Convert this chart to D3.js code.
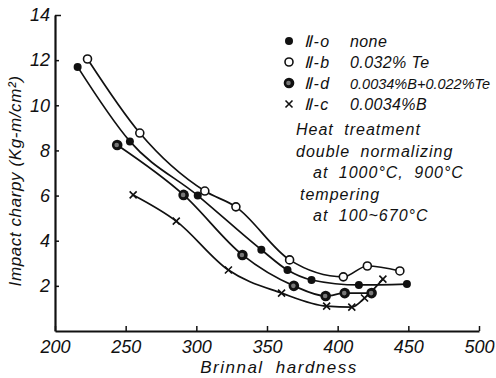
<!DOCTYPE html>
<head>
  <meta charset="utf-8">
  <script src="https://d3js.org/d3.v7.min.js"></script>
  <style>
    body { margin:0; background:#fff; }
    svg { display:block; }
    text { font-family: "Liberation Sans", sans-serif; font-style: italic; fill:#111; }
  </style>
</head>
<body>
  <svg width="496" height="378"></svg>
  <script>
    // hardness (x) and impact charpy (y) for each steel
    var s0x = [216, 253, 301, 346, 364.5, 381.5, 415, 449];
    var s0y = [11.7, 8.4, 6.0, 3.6, 2.7, 2.26, 2.04, 2.08];
    var sbx = [223, 260, 306, 328, 366, 404, 421, 444];
    var sby = [12.05, 8.77, 6.2, 5.5, 3.15, 2.4, 2.88, 2.66];
    var sdx = [244, 291, 332.6, 369, 391.5, 405, 424];
    var sdy = [8.24, 6.03, 3.37, 2.0, 1.55, 1.68, 1.68];
    var scx = [255.3, 285.8, 322.7, 360.3, 392.2, 410, 419, 432];
    var scy = [6.03, 4.87, 2.7, 1.68, 1.1, 1.06, 1.46, 2.3];

    var xTicks = [200, 250, 300, 350, 400, 450, 500];
    var yTicks = [2, 4, 6, 8, 10, 12, 14];
    var legendIds = ['\u2161-o', '\u2161-b', '\u2161-d', '\u2161-c'];
    var legendNames = ['none', '0.032% Te', '0.0034%B+0.022%Te', '0.0034%B'];
    var noteLines = ['Heat treatment', 'double normalizing', 'at 1000\u00b0C, 900\u00b0C', 'tempering', 'at 100~670\u00b0C'];

    var svg = d3.select('svg');
    var x = d3.scaleLinear().domain([200, 500]).range([55, 479]);
    var y = d3.scaleLinear().domain([0, 14]).range([331, 15]);

    function pts(xs, ys) { return xs.map((v, i) => [v, ys[i]]); }
    var series = [
      {key: 'o', data: pts(s0x, s0y)},
      {key: 'b', data: pts(sbx, sby)},
      {key: 'd', data: pts(sdx, sdy)},
      {key: 'c', data: pts(scx, scy)}
    ];

    // axes
    var xAxis = d3.axisBottom(x).tickValues(xTicks).tickSizeInner(-5).tickSizeOuter(0).tickPadding(9);
    var gx = svg.append('g').attr('transform', 'translate(0,' + y(0) + ')').call(xAxis);
    var yAxis = d3.axisLeft(y).tickValues(yTicks).tickSizeInner(-4).tickSizeOuter(0).tickPadding(5);
    var gy = svg.append('g').attr('transform', 'translate(' + x(200) + ',0)').call(yAxis);
    [gx, gy].forEach(g => {
      g.select('.domain').attr('stroke', '#111').attr('stroke-width', 2.2);
      g.selectAll('.tick line').attr('stroke', '#111').attr('stroke-width', 1.5);
      g.selectAll('.tick text').attr('font-size', 18).attr('font-family', '"Liberation Sans", sans-serif')
        .attr('font-style', 'italic').attr('fill', '#111');
    });
    gy.select('.tick:last-of-type line').attr('x2', 6);

    svg.append('text').attr('x', 279).attr('y', 373).attr('text-anchor', 'middle')
      .attr('font-size', 17).style('letter-spacing', '1.5px').style('word-spacing', '6px').text('Brinnal hardness');
    svg.append('text').attr('transform', 'translate(21,181) rotate(-90)').attr('text-anchor', 'middle')
      .attr('font-size', 17).style('letter-spacing', '0.6px').text('Impact charpy (Kg-m/cm\u00b2)');

    // curves
    var line = d3.line().x(d => x(d[0])).y(d => y(d[1])).curve(d3.curveMonotoneX);
    svg.selectAll('path.curve').data(series).enter().append('path')
      .attr('class', 'curve').attr('d', d => line(d.data))
      .attr('fill', 'none').attr('stroke', '#111').attr('stroke-width', 1.7);

    function marker(g, key, cx, cy) {
      if (key === 'o') {
        g.append('circle').attr('cx', cx).attr('cy', cy).attr('r', 4).attr('fill', '#111');
      } else if (key === 'b') {
        g.append('circle').attr('cx', cx).attr('cy', cy).attr('r', 4).attr('fill', '#fff')
          .attr('stroke', '#111').attr('stroke-width', 1.6);
      } else if (key === 'd') {
        g.append('circle').attr('cx', cx).attr('cy', cy).attr('r', 5.3).attr('fill', '#111');
        g.append('circle').attr('cx', cx - 0.5).attr('cy', cy).attr('r', 2.3).attr('fill', '#777');
      } else {
        g.append('path').attr('d', 'M' + (cx - 3.5) + ',' + (cy - 3.5) + 'L' + (cx + 3.5) + ',' + (cy + 3.5) +
          'M' + (cx + 3.5) + ',' + (cy - 3.5) + 'L' + (cx - 3.5) + ',' + (cy + 3.5))
          .attr('stroke', '#111').attr('stroke-width', 1.6);
      }
    }

    series.forEach(s => {
      var g = svg.append('g');
      s.data.forEach(d => marker(g, s.key, x(d[0]), y(d[1])));
    });

    // legend
    var lg = svg.append('g');
    legendNames.forEach((name, i) => {
      var ly = 41 + i * 21;
      marker(lg, series[i].key, 289, ly);
      lg.append('text').attr('x', 304).attr('y', ly + 6).attr('font-size', 16)
        .style('letter-spacing', '1.5px').text(legendIds[i]);
      var t = lg.append('text').attr('x', 350).attr('y', ly + 6).attr('font-size', 16)
        .style('letter-spacing', '0.4px').text(name);
      if (t.node().getComputedTextLength() > 140) {
        t.attr('font-size', 14.5).style('letter-spacing', '0px');
      }
    });
    var indent = [296, 296, 313, 300, 313];
    noteLines.forEach((t, i) => {
      svg.append('text').attr('x', indent[i]).attr('y', 135 + i * 21.5).attr('font-size', 16)
        .style('letter-spacing', '1px').style('word-spacing', '5px').text(t);
    });
  </script>
</body>
